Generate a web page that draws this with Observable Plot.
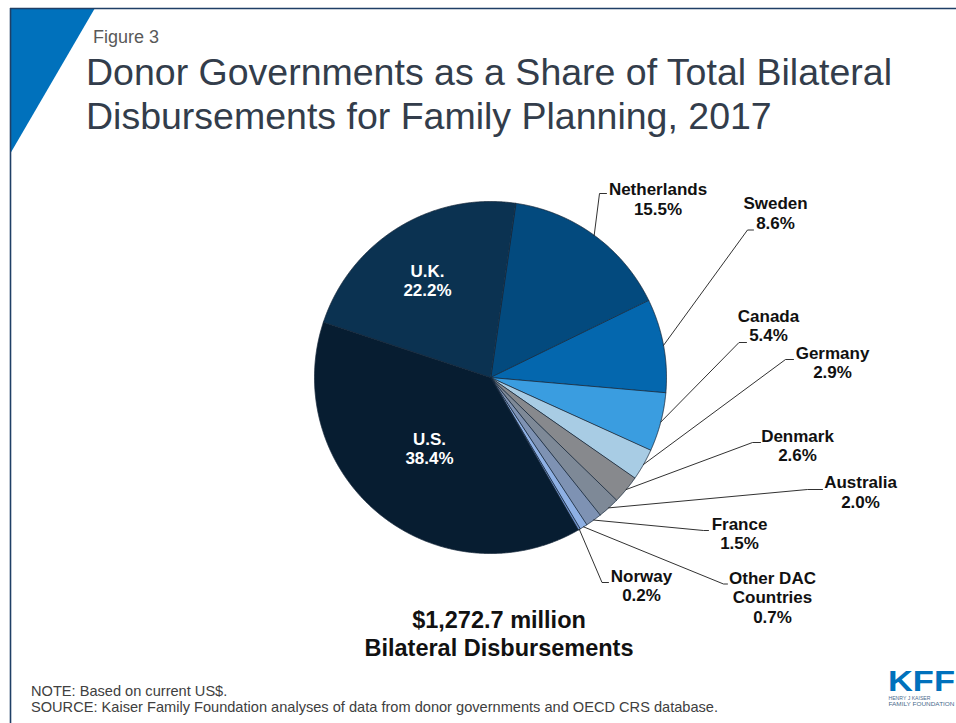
<!DOCTYPE html>
<html>
<head>
<meta charset="utf-8">
<script src="https://cdn.jsdelivr.net/npm/d3@7"></script>
<script src="https://cdn.jsdelivr.net/npm/@observablehq/plot@0.6"></script>
<style>
  html, body { margin: 0; padding: 0; background: #fff; }
  #page { position: relative; width: 956px; height: 723px; overflow: hidden; font-family: "Liberation Sans", Arial, sans-serif; }
  #deco { position: absolute; left: 0; top: 0; z-index: 0; }
  #chart { position: absolute; left: 0; top: 160px; z-index: 1; }
  .abs { position: absolute; z-index: 2; white-space: nowrap; }
  #fig { left: 93px; top: 27.5px; font-size: 18px; line-height: 18px; color: #595959; }
  #title { left: 86px; top: 49.5px; font-size: 37.5px; line-height: 44px; color: #333d4b; }
  #total { left: 349px; width: 300px; top: 606px; text-align: center; font-size: 23.5px; line-height: 28.4px; font-weight: bold; color: #111; }
  #foot { left: 31px; top: 682.7px; font-size: 14.6px; line-height: 16px; color: #404040; }
  #logo { position: absolute; left: 880px; top: 664px; z-index: 2; }
</style>
</head>
<body>
<div id="page">
  <svg id="deco" width="956" height="723">
    <polygon points="10,8 95,8 10,154" fill="#0071bc"></polygon>
    <line x1="10" y1="8.5" x2="956" y2="8.5" stroke="#1f3f66" stroke-width="1.6"></line>
    <line x1="10.5" y1="8" x2="10.5" y2="723" stroke="#1f3f66" stroke-width="1.6"></line>
  </svg>
  <div id="fig" class="abs">Figure 3</div>
  <div id="title" class="abs">Donor Governments as a Share of Total Bilateral<br>Disbursements for Family Planning, 2017</div>
  <div id="chart"></div>
  <div id="total" class="abs">$1,272.7 million<br>Bilateral Disbursements</div>
  <div id="foot" class="abs">NOTE: Based on current US$.<br>SOURCE: Kaiser Family Foundation analyses of data from donor governments and OECD CRS database.</div>
  <svg id="logo" width="76" height="59">
    <text x="8" y="27.5" font-family="'Liberation Sans', Arial, sans-serif" font-weight="900" font-size="27" fill="#0071bc" textLength="67" lengthAdjust="spacingAndGlyphs" transform="translate(0,-3.3) scale(1,1.12)">KFF</text>
    <text x="8.5" y="35.5" font-family="'Liberation Sans', Arial, sans-serif" font-size="5" fill="#4a6a8c" textLength="42" lengthAdjust="spacingAndGlyphs">HENRY J KAISER</text>
    <text x="8.5" y="41.8" font-family="'Liberation Sans', Arial, sans-serif" font-size="5" fill="#4a6a8c" textLength="66" lengthAdjust="spacingAndGlyphs">FAMILY FOUNDATION</text>
  </svg>
</div>
<script>
// ---- data ----
const names = ["Netherlands", "Sweden", "Canada", "Germany", "Denmark", "Australia", "France", "Other DAC Countries", "Norway", "U.S.", "U.K."];
const labelNames = ["Netherlands", "Sweden", "Canada", "Germany", "Denmark", "Australia", "France", "Other DAC\nCountries", "Norway", "U.S.", "U.K."];
const shares = [15.5, 8.6, 5.4, 2.9, 2.6, 2.0, 1.5, 0.7, 0.2, 38.4, 22.2];
const sliceColors = ["#034a7e", "#0467ae", "#3a9de0", "#a8cce4", "#87898d", "#7e8997", "#7e92b3", "#8eb0e4", "#6d8fc8", "#071d31", "#0b3251"];

// ---- layout (page pixels) ----
const CX = 490, CY = 377, R = 176;
const START_DEG = 8.2;
const PLOT_TOP = 160, PLOT_H = 480, W = 956;
const FONT = "'Liberation Sans', Arial, sans-serif";
// label block: centre x, top of first line; leader: elbow and end points; inside = white label on slice
const labelLayout = {
  "Netherlands":         {x: 657.5, top: 181,   elbow: [599, 193],   end: [606, 193]},
  "Sweden":              {x: 775,   top: 195,   elbow: [747, 229.5], end: [753, 229.5]},
  "Canada":              {x: 768,   top: 307.5, elbow: [738.5, 342], end: [746, 342]},
  "Germany":             {x: 832,   top: 344.5, elbow: [785, 359],   end: [793, 359]},
  "Denmark":             {x: 797,   top: 427.5, elbow: [752, 442],   end: [760, 442]},
  "Australia":           {x: 860,   top: 474,   elbow: [807, 489],   end: [822, 489]},
  "France":              {x: 739,   top: 515.5, elbow: [703, 530],   end: [708, 530]},
  "Other DAC Countries": {x: 772,   top: 569.5, elbow: [723, 583.5], end: [727, 583.5]},
  "Norway":              {x: 641,   top: 567.5, elbow: [601.5, 582], end: [608, 582]},
  "U.S.":                {x: 429,   top: 430.5, inside: true},
  "U.K.":                {x: 427,   top: 262.5, inside: true}
};

// ---- build tables for the marks ----
const rows = names.map((n, i) => ({name: n, label: labelNames[i], value: shares[i]}));
const a0 = START_DEG * Math.PI / 180;
const arcs = d3.pie().sort(null).value(d => d.value).startAngle(a0).endAngle(a0 + 2 * Math.PI)(rows);

const slicePts = [];
for (const a of arcs) {
  const n = Math.max(2, Math.ceil((a.endAngle - a.startAngle) / (Math.PI / 720)));
  slicePts.push({name: a.data.name, x: CX, y: CY});
  for (let k = 0; k <= n; k++) {
    const t = a.startAngle + (a.endAngle - a.startAngle) * k / n;
    slicePts.push({name: a.data.name, x: CX + R * Math.sin(t), y: CY - R * Math.cos(t)});
  }
}

const leaderPts = [];
const outLabels = [], inLabels = [];
for (const a of arcs) {
  const L = labelLayout[a.data.name];
  const text = `${a.data.label}\n${a.data.value.toFixed(1)}%`;
  if (L.inside) { inLabels.push({x: L.x, y: L.top, text}); continue; }
  outLabels.push({x: L.x, y: L.top, text});
  const mid = (a.startAngle + a.endAngle) / 2;
  leaderPts.push({name: a.data.name, x: CX + R * Math.sin(mid), y: CY - R * Math.cos(mid)});
  leaderPts.push({name: a.data.name, x: L.elbow[0], y: L.elbow[1]});
  leaderPts.push({name: a.data.name, x: L.end[0], y: L.end[1]});
}

const chart = Plot.plot({
  width: W,
  height: PLOT_H,
  margin: 0,
  style: {background: "transparent", overflow: "visible", fontFamily: FONT},
  x: {domain: [0, W], range: [0, W], axis: null},
  y: {domain: [PLOT_TOP, PLOT_TOP + PLOT_H], range: [0, PLOT_H], axis: null},
  color: {domain: names, range: sliceColors},
  marks: [
    Plot.line(slicePts, {x: "x", y: "y", z: "name", fill: "name", stroke: "#15273a", strokeWidth: 0.8, curve: "linear-closed", strokeLinejoin: "round"}),
    Plot.line(leaderPts, {x: "x", y: "y", z: "name", stroke: "#1a1a1a", strokeWidth: 0.9}),
    Plot.text(outLabels, {x: "x", y: "y", text: "text", textAnchor: "middle", lineAnchor: "top", lineHeight: 1.15, fontSize: 17, fontWeight: "bold", fill: "#111", fontFamily: FONT}),
    Plot.text(inLabels, {x: "x", y: "y", text: "text", textAnchor: "middle", lineAnchor: "top", lineHeight: 1.15, fontSize: 17, fontWeight: "bold", fill: "#ffffff", fontFamily: FONT})
  ]
});
document.getElementById("chart").appendChild(chart);
</script>
</body>
</html>
